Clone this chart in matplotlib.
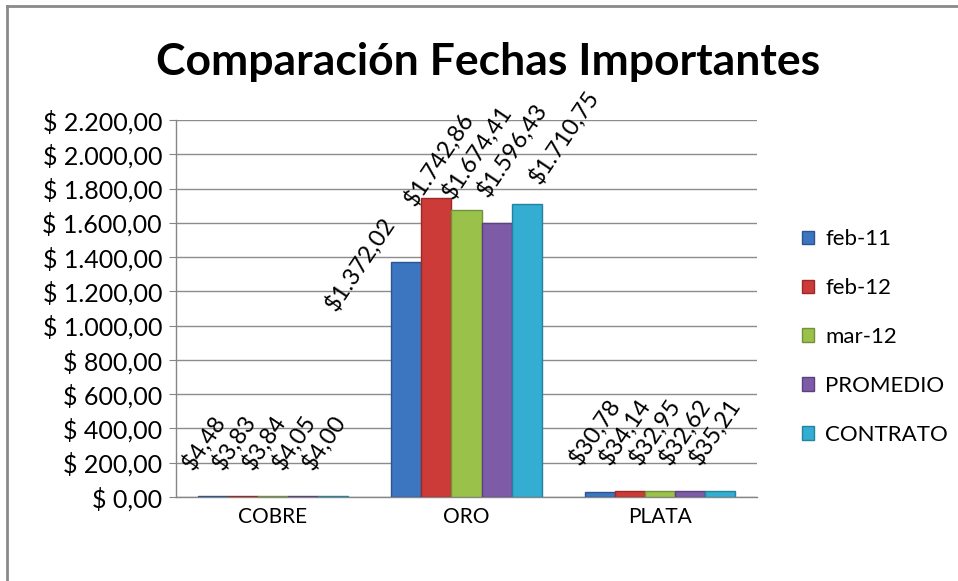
import numpy as np
import matplotlib.pyplot as plt
from matplotlib.lines import Line2D
from matplotlib.ticker import FuncFormatter

# datos del grafico
metales = ['COBRE', 'ORO', 'PLATA']
series = ['feb-11', 'feb-12', 'mar-12', 'PROMEDIO', 'CONTRATO']
feb_11 = [4.48, 1372.02, 30.78]
feb_12 = [3.83, 1742.86, 34.14]
mar_12 = [3.84, 1674.41, 32.95]
promedio = [4.05, 1596.43, 32.62]
contrato = [4.00, 1710.75, 35.21]
valores = [feb_11, feb_12, mar_12, promedio, contrato]

colores = ['#3C75C0', '#CC3B38', '#9AC14A', '#7D5BA6', '#33ADD1']
bordes = ['#2A5590', '#9A2A28', '#74913A', '#5B4180', '#24849E']

# desplazamiento (px) de la etiqueta respecto a la esquina sup. izq. de la barra
ajuste_def = (-5, 25)
ajuste_oro = [(-55, -50), (-6, -9), (2, 10), (7, 25), (29, 19)]


def fmt_moneda(v, con_espacio=True):
    s = f'{v:,.2f}'.replace(',', 'X').replace('.', ',').replace('X', '.')
    return ('$ ' if con_espacio else '$') + s


plt.rcParams['font.family'] = ['Lato', 'DejaVu Sans']

fig = plt.figure(figsize=(9.58, 5.81), dpi=100)
ax = fig.add_axes([176/958, 1-497/581, (757-176)/958, (497-120)/581])

x = np.arange(len(metales))
ancho = 0.155
for j, (nombre, vals) in enumerate(zip(series, valores)):
    pos = x + (j - 2) * ancho
    ax.bar(pos, vals, width=ancho, color=colores[j], edgecolor=bordes[j],
           linewidth=1.0, label=nombre, zorder=3)
    for i, v in enumerate(vals):
        dx, dy = ajuste_oro[j] if metales[i] == 'ORO' else ajuste_def
        ax.annotate(fmt_moneda(v, False), xy=(pos[i] - ancho/2, v),
                    xytext=(dx*0.72, dy*0.72), textcoords='offset points',
                    rotation=56, rotation_mode='anchor', ha='left',
                    va='baseline', fontsize=17, color='black', zorder=4,
                    annotation_clip=False)

ax.set_xlim(-0.5, 2.5)
ax.set_ylim(0, 2200)
ax.set_yticks(np.arange(0, 2201, 200))
ax.yaxis.set_major_formatter(FuncFormatter(lambda v, p: fmt_moneda(v)))
ax.set_xticks(x)
ax.set_xticklabels(metales)
ax.tick_params(axis='y', labelsize=18, length=5, color='#868686', pad=5)
ax.tick_params(axis='x', labelsize=15, length=0, pad=7)
ax.grid(axis='y', color='#8C8C8C', linewidth=1.0, zorder=0)
for lado in ['top', 'right']:
    ax.spines[lado].set_visible(False)
for lado in ['left', 'bottom']:
    ax.spines[lado].set_color('#868686')
    ax.spines[lado].set_linewidth(1.0)

fig.text(488/958, 1-62/581, 'Comparación Fechas Importantes',
         ha='center', va='center', fontsize=32, fontweight='bold')

ax.legend(loc='center left', bbox_to_anchor=(793/958, 1-337/581),
          bbox_transform=fig.transFigure, frameon=False, fontsize=16,
          handlelength=0.55, handleheight=0.55, handletextpad=0.5,
          labelspacing=1.3, borderaxespad=0)

# marco del area del grafico (solo izquierda y arriba)
fig.add_artist(Line2D([7/958, 7/958], [0, 1-6/581], color='#8A8A8A', lw=2,
                      transform=fig.transFigure))
fig.add_artist(Line2D([7/958, 1], [1-6/581, 1-6/581], color='#8A8A8A', lw=2,
                      transform=fig.transFigure))

fig.savefig('out.png', dpi=100)
